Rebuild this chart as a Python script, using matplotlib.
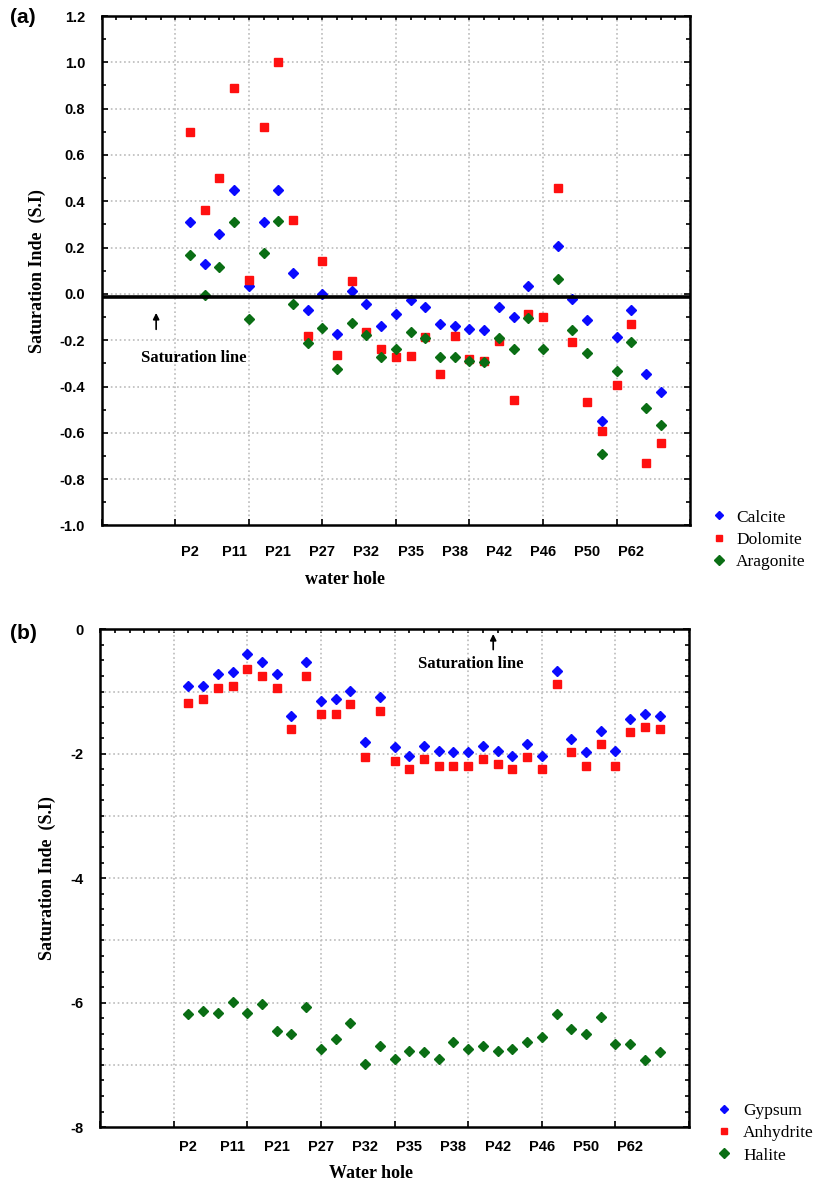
import numpy as np
import matplotlib
matplotlib.use('Agg')
import matplotlib.pyplot as plt
from matplotlib.ticker import MultipleLocator

plt.rcParams['axes.unicode_minus'] = False

# Sample order along the x axis (33 water holes, every 3rd one is labelled)
idx = np.arange(1, 34)
tick_pos = [1, 4, 7, 10, 13, 16, 19, 22, 25, 28, 31]
tick_labels = ['P2', 'P11', 'P21', 'P27', 'P32', 'P35', 'P38', 'P42', 'P46', 'P50', 'P62']

# Panel (a): carbonate minerals
calcite = [0.31, 0.13, 0.26, 0.45, 0.033, 0.31, 0.45, 0.09, -0.07, 0.0, -0.175,
           0.011, -0.042, -0.137, -0.085, -0.027, -0.058, -0.128, -0.137, -0.151,
           -0.154, -0.056, -0.101, 0.033, np.nan, 0.208, -0.02, -0.114, -0.549,
           -0.187, -0.071, -0.344, -0.424]
dolomite = [0.70, 0.363, 0.50, 0.89, 0.062, 0.72, 1.0, 0.319, -0.18, 0.143, -0.262,
            0.054, -0.164, -0.24, -0.272, -0.269, -0.187, -0.344, -0.18, -0.283,
            -0.29, -0.204, -0.46, -0.086, -0.101, 0.457, -0.209, -0.467, -0.592,
            -0.395, -0.129, -0.731, -0.642]
aragonite = [0.166, -0.006, 0.116, 0.31, -0.11, 0.177, 0.313, -0.045, -0.214, -0.147,
             -0.323, -0.125, -0.178, -0.273, -0.236, -0.164, -0.19, -0.273, -0.273,
             -0.288, -0.295, -0.19, -0.236, -0.104, -0.236, 0.065, -0.154, -0.257,
             -0.693, -0.331, -0.207, -0.491, -0.566]

# Panel (b): evaporite minerals
gypsum = [-0.905, -0.905, -0.717, -0.69, -0.396, -0.53, -0.717, -1.387, -0.53, -1.146,
          -1.119, -0.985, -1.814, -1.092, -1.894, -2.029, -1.868, -1.948, -1.975,
          -1.975, -1.868, -1.948, -2.029, -1.841, -2.029, -0.664, -1.761, -1.975,
          -1.627, -1.948, -1.44, -1.36, -1.387]
anhydrite = [-1.178, -1.124, -0.937, -0.91, -0.637, -0.75, -0.937, -1.60, -0.75, -1.36,
             -1.36, -1.199, -2.055, -1.306, -2.109, -2.243, -2.082, -2.189, -2.189,
             -2.189, -2.082, -2.162, -2.243, -2.055, -2.243, -0.883, -1.975, -2.189,
             -1.841, -2.189, -1.653, -1.573, -1.60]
halite = [-6.18, -6.13, -6.16, -5.995, -6.16, -6.02, -6.45, -6.50, -6.075, -6.745,
          -6.58, -6.32, -6.985, -6.69, -6.905, -6.77, -6.80, -6.905, -6.64, -6.745,
          -6.69, -6.77, -6.745, -6.64, -6.56, -6.18, -6.42, -6.50, -6.235, -6.66,
          -6.66, -6.93, -6.80]

BLUE, RED, GREEN = '#0a0aff', '#ff1010', '#0a6e14'
SERIF = 'Liberation Serif'
SANS = 'Liberation Sans'

fig = plt.figure(figsize=(8.27, 11.87), dpi=100)
ax1 = fig.add_axes([0.123, 0.5573, 0.7114, 0.4292])
ax2 = fig.add_axes([0.121, 0.0505, 0.7122, 0.4193])


def style_axes(ax, ymin, ymax, ymajor, yminor, ygrid, xpad):
    ax.set_xlim(-5, 35)
    ax.set_ylim(ymin, ymax)
    ax.xaxis.remove_overlapping_locs = False
    ax.set_xticks(np.arange(-5, 36, 5))
    ax.set_xticklabels([])
    ax.set_xticks(tick_pos, minor=True)
    ax.set_xticklabels(tick_labels, minor=True, fontfamily=SANS, fontweight='bold', fontsize=10.5)
    ax.tick_params(axis='x', which='minor', length=0, pad=xpad)
    ax.tick_params(axis='x', which='major', direction='in', length=4, width=1.2)
    ax.yaxis.set_major_locator(MultipleLocator(ymajor))
    ax.yaxis.set_minor_locator(MultipleLocator(yminor))
    ax.tick_params(axis='y', which='both', direction='in', right=True, width=1.2, pad=12)
    ax.tick_params(axis='y', which='major', length=4)
    ax.tick_params(axis='y', which='minor', length=3)
    for lab in ax.get_yticklabels():
        lab.set_fontfamily(SANS)
        lab.set_fontweight('bold')
        lab.set_fontsize(10.5)
    # grid lines: verticals every 5 samples, horizontals every ygrid
    ax.grid(axis='x', which='major', color='#bbbbbb', linestyle=':', linewidth=1.2)
    for g in np.arange(ymin + ygrid, ymax, ygrid):
        ax.axhline(g, color='#bbbbbb', linestyle=':', linewidth=1.2, zorder=0)
    for s in ax.spines.values():
        s.set_linewidth(1.8)
    top = ax.secondary_xaxis('top')
    top.set_xticks(np.arange(-5, 36, 1))
    top.set_xticklabels([])
    top.tick_params(direction='in', length=3, width=1.2)
    ax.set_ylabel('Saturation Inde  (S.I)', fontfamily=SERIF, fontweight='bold',
                  fontsize=13, labelpad=10)


# ---- panel (a)
ax1.plot(idx, calcite, 'D', color=BLUE, markersize=5, linestyle='none', label='Calcite')
ax1.plot(idx, dolomite, 's', color=RED, markersize=5.5, linestyle='none', label='Dolomite')
ax1.plot(idx, aragonite, 'D', color=GREEN, markersize=5.5, linestyle='none', label='Aragonite')
style_axes(ax1, -1.0, 1.2, 0.2, 0.1, 0.2, 14)
ax1.axhline(-0.015, color='black', linewidth=2.6, zorder=3)
ax1.annotate('', xy=(-1.3, -0.07), xytext=(-1.3, -0.165),
             arrowprops=dict(arrowstyle='-|>', color='black', lw=1.2, mutation_scale=9))
ax1.text(-2.35, -0.278, 'Saturation line', fontfamily=SERIF, fontweight='bold',
         fontsize=12, va='center', ha='left')
ax1.set_xlabel('water hole', fontfamily=SERIF, fontweight='bold', fontsize=13)
ax1.xaxis.set_label_coords(0.414, -0.09)
ax1.legend(loc='upper left', bbox_to_anchor=(0.842, 0.584), bbox_transform=fig.transFigure,
           frameon=False, numpoints=1, handlelength=0.8, handletextpad=0.6,
           labelspacing=0.35, markerscale=0.9, prop={'family': SERIF, 'size': 12.5})
fig.text(0.012, 0.985, '(a)', fontfamily=SANS, fontweight='bold', fontsize=15, va='center')

# ---- panel (b)
ax2.plot(idx, gypsum, 'D', color=BLUE, markersize=5, linestyle='none', label='Gypsum')
ax2.plot(idx, anhydrite, 's', color=RED, markersize=5.5, linestyle='none', label='Anhydrite')
ax2.plot(idx, halite, 'D', color=GREEN, markersize=5.5, linestyle='none', label='Halite')
style_axes(ax2, -8, 0, 2, 0.25, 1, 9)
ax2.annotate('', xy=(21.7, -0.03), xytext=(21.7, -0.37),
             arrowprops=dict(arrowstyle='-|>', color='black', lw=1.2, mutation_scale=9))
ax2.text(16.6, -0.56, 'Saturation line', fontfamily=SERIF, fontweight='bold',
         fontsize=12, va='center', ha='left')
ax2.set_xlabel('Water hole', fontfamily=SERIF, fontweight='bold', fontsize=13)
ax2.xaxis.set_label_coords(0.46, -0.076)
ax2.legend(loc='upper left', bbox_to_anchor=(0.848, 0.084), bbox_transform=fig.transFigure,
           frameon=False, numpoints=1, handlelength=0.8, handletextpad=0.7,
           labelspacing=0.35, markerscale=0.9, prop={'family': SERIF, 'size': 12.5})
fig.text(0.012, 0.466, '(b)', fontfamily=SANS, fontweight='bold', fontsize=15, va='center')

fig.savefig('out.png', dpi=100)
